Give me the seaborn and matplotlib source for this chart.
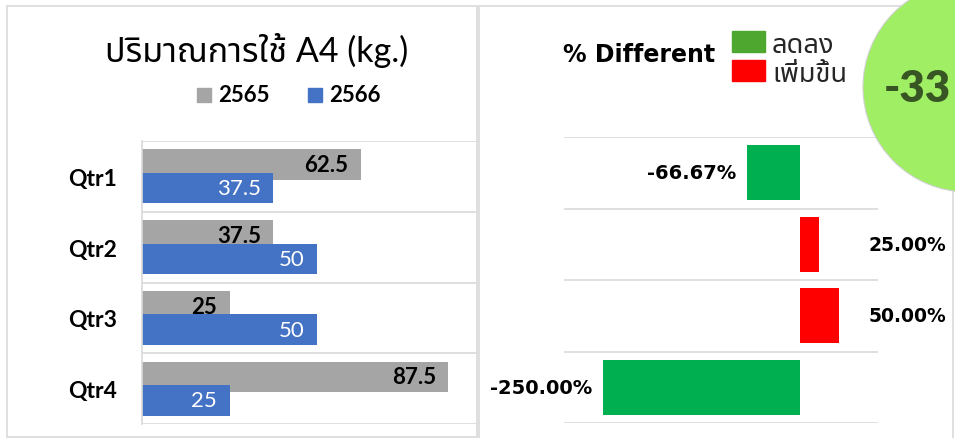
import matplotlib
matplotlib.use("Agg")
import matplotlib.pyplot as plt
from matplotlib.patches import Circle, Rectangle
import pandas as pd
import seaborn as sns

# Data
quarters = ["Qtr1", "Qtr2", "Qtr3", "Qtr4"]
usage_2565 = [62.5, 37.5, 25, 87.5]
usage_2566 = [37.5, 50, 50, 25]
pct_diff = [-66.67, 25.00, 50.00, -250.00]
pct_labels = ["-66.67%", "25.00%", "50.00%", "-250.00%"]
trend = ["ลดลง", "เพิ่มขึ้น", "เพิ่มขึ้น", "ลดลง"]
total_label = "-33"

GRAY = "#A5A5A5"
BLUE = "#4472C4"
GREEN = "#00B050"
GREEN_LEG = "#4EA72E"
RED = "#FF0000"
GRID = "#D9D9D9"
W, H = 955, 439

sns.set_theme(style="white")
# Lato for latin text, Noto Sans Thai for the thai glyphs
plt.rcParams["font.family"] = ["Lato", "Noto Sans Thai", "DejaVu Sans"]


def fx(x):
    return x / W


def fy(y):
    return 1 - y / H


fig = plt.figure(figsize=(W / 100, H / 100), dpi=100)

# Left chart: usage per quarter
usage = pd.DataFrame({
    "quarter": quarters * 2,
    "year": ["2565"] * 4 + ["2566"] * 4,
    "kg": usage_2565 + usage_2566,
})
ax_l = fig.add_axes([fx(142), fy(425), fx(477) - fx(142), fy(142) - fy(425)])
sns.barplot(data=usage, y="quarter", x="kg", hue="year", orient="h",
            palette=[GRAY, BLUE], saturation=1, width=0.662, gap=-0.3,
            linewidth=0, errorbar=None, legend=False, ax=ax_l)
ax_l.set_xlim(0, 95.7)
ax_l.set_ylim(3.5, -0.5)
ax_l.set_xticks([])
ax_l.set_xlabel("")
ax_l.set_ylabel("")
ax_l.set_yticks([-0.5, 0.5, 1.5, 2.5, 3.5], minor=True)
ax_l.grid(which="minor", axis="y", color=GRID, linewidth=1.2)
ax_l.tick_params(axis="y", which="both", length=0, pad=18)
for lbl in ax_l.get_yticklabels():
    lbl.set_fontweight("bold")
    lbl.set_fontsize(16.5)
    lbl.set_color("black")
for side in ["top", "right", "bottom"]:
    ax_l.spines[side].set_visible(False)
ax_l.spines["left"].set_color(GRID)
ax_l.spines["left"].set_linewidth(1.2)

for cont, color, weight in zip(ax_l.containers, ["black", "white"], ["bold", "normal"]):
    texts = ax_l.bar_label(cont, labels=[f"{v:g}" for v in cont.datavalues],
                           padding=-9, color=color, fontweight=weight, fontsize=16)
    for t in texts:
        t.set_ha("right")

fig.text(fx(257), fy(50), "ปริมาณการใช้ A4 (kg.)", ha="center", va="center",
         fontsize=24.5, color="black")
for x0, color, year in [(197, GRAY, "2565"), (308, BLUE, "2566")]:
    fig.add_artist(Rectangle((fx(x0), fy(103)), fx(14), 14 / H, color=color))
    fig.text(fx(x0 + 21), fy(96), year, ha="left", va="center",
             fontsize=16, fontweight="bold", color="black")

# Right chart: percent difference
diff = pd.DataFrame({"quarter": quarters, "pct": pct_diff, "trend": trend})
ax_r = fig.add_axes([fx(564), fy(424), fx(878) - fx(564), fy(138) - fy(424)])
sns.barplot(data=diff, y="quarter", x="pct", hue="trend", orient="h",
            hue_order=["ลดลง", "เพิ่มขึ้น"], palette=[GREEN, RED], saturation=1,
            dodge=False, width=0.77, linewidth=0, errorbar=None, legend=False,
            ax=ax_r)
ax_r.set_xlim(-300, 100)
ax_r.set_ylim(3.5, -0.5)
ax_r.set_xticks([])
ax_r.set_yticks([])
ax_r.set_xlabel("")
ax_r.set_ylabel("")
ax_r.set_yticks([-0.5, 0.5, 1.5, 2.5, 3.5], minor=True)
ax_r.grid(which="minor", axis="y", color=GRID, linewidth=1.2)
ax_r.tick_params(axis="y", which="both", length=0)
sns.despine(ax=ax_r, left=True, bottom=True)

for i, (v, txt) in enumerate(zip(pct_diff, pct_labels)):
    if v < 0:
        ax_r.text(v - 14, i, txt, ha="right", va="center", fontsize=14,
                  fontweight="bold", family="DejaVu Sans", color="black")
    else:
        ax_r.text(88, i, txt, ha="left", va="center", fontsize=13.5,
                  fontweight="bold", family="DejaVu Sans", color="black",
                  clip_on=False)

fig.text(fx(563), fy(55), "% Different", ha="left", va="center", fontsize=17,
         fontweight="bold", family="DejaVu Sans", color="black")
for top, color, label, base in [(32, GREEN_LEG, "ลดลง", 53), (61, RED, "เพิ่มขึ้น", 82)]:
    fig.add_artist(Rectangle((fx(732), fy(top + 21)), fx(33), 21 / H, color=color))
    fig.text(fx(772), fy(base), label, ha="left", va="baseline", fontsize=19.5,
             color="#262626")

# Panel borders
fig.add_artist(Rectangle((fx(6.5), fy(437.5)), fx(470), 431 / H, fill=False,
                         edgecolor=GRID, linewidth=1.2))
fig.add_artist(Rectangle((fx(478.5), fy(445)), fx(474), 438.5 / H, fill=False,
                         edgecolor=GRID, linewidth=1.2))

# Total change badge
fig.add_artist(Circle((9.68, (H - 88) / 100), 1.05, transform=fig.dpi_scale_trans,
                      facecolor="#A0EE63", edgecolor="#D0D0D0", linewidth=0.8))
fig.text(fx(884), fy(102), total_label, ha="left", va="baseline", fontsize=31.5,
         fontweight="heavy", color="#375623")

fig.savefig("out.png", dpi=100)
